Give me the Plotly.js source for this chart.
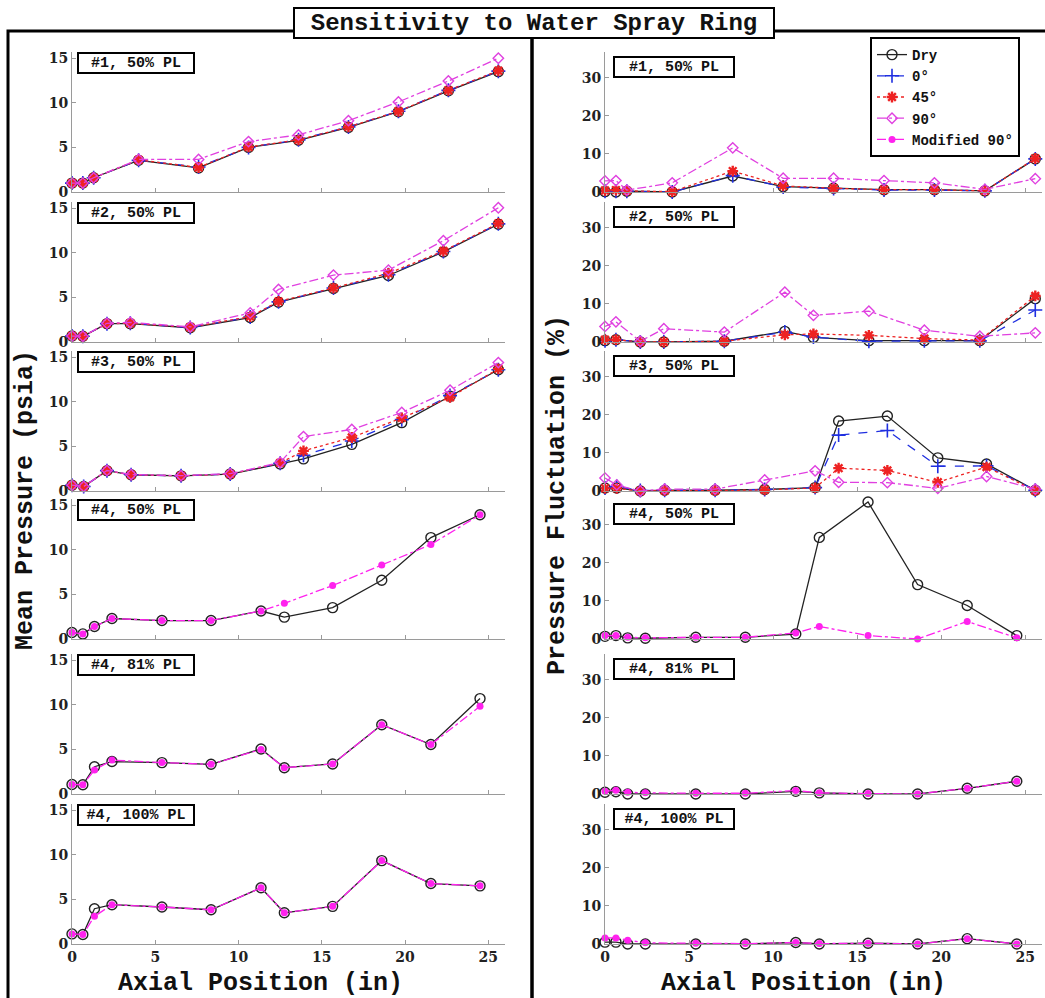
<!DOCTYPE html>
<html>
<head>
<meta charset="utf-8">
<script src="https://cdn.plot.ly/plotly-3.0.1.min.js"></script>
<style>html,body{margin:0;padding:0;background:#fff;}#chart{width:1045px;height:998px;}</style>
</head>
<body>
<div id="chart"></div>
<script>
// ---------- DATA ----------
const seriesNames = ['Dry', '0°', '45°', '90°', 'Modified 90°'];
const caseLabels = ['#1, 50% PL', '#2, 50% PL', '#3, 50% PL', '#4, 50% PL', '#4, 81% PL', '#4, 100% PL'];

// axial positions (in)
const xCase1 = [0, 0.65, 1.3, 4.0, 7.6, 10.6, 13.6, 16.6, 19.6, 22.6, 25.6];
const xCase2 = [0, 0.65, 2.1, 3.5, 7.1, 10.7, 12.4, 15.7, 19.0, 22.3, 25.6];
const xCase3 = [0, 0.7, 2.1, 3.55, 6.55, 9.5, 12.5, 13.9, 16.8, 19.8, 22.7, 25.6];
const xCase4 = [0, 0.65, 1.35, 2.4, 5.4, 8.35, 11.35, 12.75, 15.65, 18.6, 21.55, 24.5];

// Mean pressure (psia)
const mean1Dry = [1.0, 1.0, 1.6, 3.55, 2.7, 5.0, 5.8, 7.25, 9.0, 11.35, 13.5];
const mean1Deg0 = [1.0, 1.0, 1.6, 3.55, 2.8, 5.0, 5.85, 7.3, 9.05, 11.4, 13.55];
const mean1Deg45 = [1.0, 1.0, 1.6, 3.6, 2.75, 5.05, 5.85, 7.3, 9.05, 11.4, 13.6];
const mean1Deg90 = [1.0, 1.0, 1.6, 3.65, 3.65, 5.65, 6.4, 8.0, 10.1, 12.45, 15.0];

const mean2Dry = [0.67, 0.64, 2.06, 2.06, 1.6, 2.74, 4.46, 6.0, 7.46, 10.1, 13.2];
const mean2Deg0 = [0.67, 0.64, 2.06, 2.1, 1.62, 2.8, 4.5, 6.05, 7.55, 10.15, 13.25];
const mean2Deg45 = [0.67, 0.64, 2.06, 2.1, 1.65, 2.85, 4.55, 6.05, 7.7, 10.2, 13.3];
const mean2Deg90 = [0.67, 0.64, 2.1, 2.2, 1.7, 3.26, 5.9, 7.5, 8.06, 11.36, 15.06];

const mean3Dry = [0.65, 0.5, 2.28, 1.82, 1.7, 1.9, 3.04, 3.6, 5.23, 7.67, 10.63, 13.6];
const mean3Deg0 = [0.65, 0.5, 2.28, 1.82, 1.7, 1.9, 3.1, 4.0, 5.6, 8.0, 10.7, 13.6];
const mean3Deg45 = [0.65, 0.5, 2.28, 1.82, 1.7, 1.9, 3.15, 4.5, 6.0, 8.2, 10.5, 13.7];
const mean3Deg90 = [0.65, 0.5, 2.3, 1.85, 1.72, 1.95, 3.2, 6.1, 6.9, 8.8, 11.3, 14.4];

const mean4aDry = [0.73, 0.57, 1.4, 2.3, 2.07, 2.07, 3.14, 2.45, 3.52, 6.58, 11.37, 13.93];
const mean4aMod = [0.73, 0.57, 1.4, 2.3, 2.07, 2.07, 3.14, 4.0, 6.0, 8.3, 10.6, 13.93];
const mean4bDry = [1.07, 1.03, 3.06, 3.64, 3.52, 3.33, 5.05, 2.95, 3.37, 7.77, 5.55, 10.7];
const mean4bMod = [1.07, 1.03, 2.68, 3.8, 3.52, 3.33, 5.0, 2.95, 3.37, 7.77, 5.55, 9.83];
const mean4cDry = [1.13, 1.06, 3.96, 4.41, 4.15, 3.84, 6.3, 3.5, 4.22, 9.35, 6.78, 6.52];
const mean4cMod = [1.13, 1.06, 3.1, 4.41, 4.15, 3.84, 6.3, 3.5, 4.22, 9.35, 6.78, 6.52];

// Pressure fluctuation (%)
const fluct1Dry = [0.1, 0, 0.2, 0, 4.2, 1.4, 1.0, 0.6, 0.6, 0.3, 8.7];
const fluct1Deg0 = [0.2, 0.2, 0.2, 0, 4.3, 1.3, 0.9, 0.5, 0.5, 0.3, 8.7];
const fluct1Deg45 = [0.4, 0.5, 0.3, 0.1, 5.5, 1.6, 1.0, 0.6, 0.6, 0.3, 8.8];
const fluct1Deg90 = [2.9, 3.0, 0.5, 2.4, 11.6, 3.6, 3.6, 3.0, 2.4, 0.7, 3.5];

const fluct2Dry = [0.35, 0.6, 0, 0, 0.2, 2.8, 1.2, 0.35, 0.35, 0.35, 11.4];
const fluct2Deg0 = [0.35, 0.6, 0, 0, 0.2, 2.6, 1.3, 0.2, 0.3, 0.3, 8.4];
const fluct2Deg45 = [0.6, 0.6, 0, 0, 0.2, 1.9, 2.1, 1.75, 0.9, 0.5, 12.1];
const fluct2Deg90 = [4.1, 5.3, 0.2, 3.5, 2.6, 13.1, 7.0, 8.1, 3.1, 1.5, 2.4];

const fluct3Dry = [0.8, 0.8, 0, 0.2, 0.2, 0.4, 0.9, 18.4, 19.7, 8.7, 7.1, 0.2];
const fluct3Deg0 = [0.8, 1.2, 0.1, 0.2, 0.2, 0.4, 0.9, 14.7, 15.9, 6.5, 6.6, 0.2];
const fluct3Deg45 = [0.7, 0.7, 0, 0.1, 0.1, 0.3, 0.8, 6.0, 5.4, 2.3, 6.3, 0.1];
const fluct3Deg90 = [3.4, 1.6, 0, 0.5, 0.5, 2.9, 5.3, 2.3, 2.2, 0.7, 3.8, 0.5];

const fluct4aDry = [0.7, 0.9, 0.3, 0.2, 0.45, 0.45, 1.3, 26.7, 36.0, 14.3, 8.8, 0.9];
const fluct4aMod = [0.9, 0.9, 0.45, 0.3, 0.45, 0.45, 1.6, 3.3, 0.9, 0, 4.6, 0.3];
const fluct4bDry = [0.45, 0.6, 0, 0, 0, 0, 0.7, 0.3, 0, 0, 1.5, 3.35];
const fluct4bMod = [0.7, 1.0, 0.45, 0.3, 0.2, 0.2, 0.9, 0.3, 0.1, 0, 1.5, 3.35];
const fluct4cDry = [0.5, 0.5, 0, 0, 0, 0, 0.4, 0, 0.2, 0, 1.4, 0];
const fluct4cMod = [1.6, 1.6, 1.0, 0.3, 0.2, 0.1, 0.4, 0.1, 0.2, 0, 1.4, 0];

const meanTicks = [0, 5, 10, 15];
const fluctTicks = [0, 10, 20, 30];
const axialTicks = [0, 5, 10, 15, 20, 25];

// ---------- BUILD ----------
const panels = [
  {label: caseLabels[0], x: xCase1, mean: [mean1Dry, mean1Deg0, mean1Deg45, mean1Deg90, null], fluct: [fluct1Dry, fluct1Deg0, fluct1Deg45, fluct1Deg90, null]},
  {label: caseLabels[1], x: xCase2, mean: [mean2Dry, mean2Deg0, mean2Deg45, mean2Deg90, null], fluct: [fluct2Dry, fluct2Deg0, fluct2Deg45, fluct2Deg90, null]},
  {label: caseLabels[2], x: xCase3, mean: [mean3Dry, mean3Deg0, mean3Deg45, mean3Deg90, null], fluct: [fluct3Dry, fluct3Deg0, fluct3Deg45, fluct3Deg90, null]},
  {label: caseLabels[3], x: xCase4, mean: [mean4aDry, null, null, null, mean4aMod], fluct: [fluct4aDry, null, null, null, fluct4aMod]},
  {label: caseLabels[4], x: xCase4, mean: [mean4bDry, null, null, null, mean4bMod], fluct: [fluct4bDry, null, null, null, fluct4bMod]},
  {label: caseLabels[5], x: xCase4, mean: [mean4cDry, null, null, null, mean4cMod], fluct: [fluct4cDry, null, null, null, fluct4cMod]}
];

const styles = [
  {color: '#222222', symbol: 'circle-open', size: 10, mlw: 1.4, dash: 'solid'},
  {color: '#1f2fe0', symbol: 'cross-thin-open', size: 10, mlw: 1.6, dash: 'dash'},
  {color: '#ee2222', symbol: 'asterisk-open', size: 9, mlw: 2.4, dash: 'dot'},
  {color: '#e040e0', symbol: 'diamond-open', size: 8, mlw: 1.4, dash: 'dashdot'},
  {color: '#ff22ee', symbol: 'circle', size: 7, mlw: 0, dash: 'dashdot'}
];

const W = 1045, H = 998;
const px = v => v / W;
const py = v => 1 - v / H;
const rowZero = [192, 342, 491, 639, 794, 944];
const plotH = 140;
const colX = [[72, 505], [605, 1042]];

const MONO = '"Courier New", "Liberation Mono", monospace';
const SERIF = '"DejaVu Serif", serif';

const traces = [];
const layout = {
  width: W, height: H,
  margin: {l: 0, r: 0, t: 0, b: 0},
  paper_bgcolor: '#ffffff', plot_bgcolor: '#ffffff',
  showlegend: true,
  legend: {
    x: px(870), y: py(37), xanchor: 'left', yanchor: 'top',
    bgcolor: '#ffffff', bordercolor: '#000000', borderwidth: 2,
    font: {family: MONO, size: 14, color: '#111', weight: 'bold'},
    itemwidth: 30, tracegroupgap: 0, traceorder: 'normal'
  },
  annotations: [], shapes: []
};
const shown = {};

panels.forEach((p, r) => {
  [0, 1].forEach(c => {
    const k = r * 2 + c + 1;
    const xn = k === 1 ? 'xaxis' : 'xaxis' + k;
    const yn = k === 1 ? 'yaxis' : 'yaxis' + k;
    const xid = k === 1 ? 'x' : 'x' + k;
    const yid = k === 1 ? 'y' : 'y' + k;
    const zero = rowZero[r];
    layout[xn] = {
      domain: [px(colX[c][0]), px(colX[c][1])], range: [0, 26], anchor: yid,
      showgrid: false, zeroline: false, showline: true, linecolor: '#9a9a9a', linewidth: 1,
      ticks: 'inside', ticklen: 4, tickcolor: '#9a9a9a', tickvals: axialTicks,
      showticklabels: r === 5, tickfont: {family: SERIF, size: 14, color: '#222', weight: 'bold'},
      fixedrange: true
    };
    layout[yn] = {
      domain: [py(zero), py(zero - plotH)], range: c === 0 ? [0, 15.7] : [0, 36.8], anchor: xid,
      showgrid: false, zeroline: false, showline: true, linecolor: '#9a9a9a', linewidth: 1,
      ticks: 'inside', ticklen: 4, tickcolor: '#9a9a9a', tickvals: c === 0 ? meanTicks : fluctTicks,
      tickfont: {family: SERIF, size: 14, color: '#222', weight: 'bold'},
      fixedrange: true
    };
    const ys = c === 0 ? p.mean : p.fluct;
    ys.forEach((yv, s) => {
      if (!yv) return;
      const st = styles[s];
      const first = !shown[s];
      shown[s] = true;
      traces.push({
        type: 'scatter', mode: 'lines+markers', x: p.x, y: yv, xaxis: xid, yaxis: yid,
        name: seriesNames[s], legendgroup: seriesNames[s], showlegend: first, legendrank: s + 1,
        cliponaxis: false,
        line: {color: st.color, width: 1.3, dash: st.dash},
        marker: {symbol: st.symbol, size: st.size, color: st.color, line: {color: st.color, width: st.mlw}}
      });
    });
    // panel label box
    layout.annotations.push({
      xref: 'paper', yref: 'paper', xanchor: 'left', yanchor: 'top',
      x: px(c === 0 ? 77 : 613), y: py(zero - plotH + (c === 0 ? 0 : 4)),
      text: p.label, showarrow: false,
      font: {family: MONO, size: 15, color: '#111', weight: 'bold'},
      bgcolor: '#ffffff', bordercolor: '#000000', borderwidth: 2, borderpad: 1,
      width: c === 0 ? 112 : 116, height: 16, align: 'center'
    });
  });
});

// frames
layout.shapes.push({type: 'rect', xref: 'paper', yref: 'paper', x0: px(8), x1: px(532), y0: py(31), y1: -0.02,
  line: {color: '#000', width: 3}, fillcolor: 'rgba(0,0,0,0)', layer: 'above'});
layout.shapes.push({type: 'rect', xref: 'paper', yref: 'paper', x0: px(532), x1: 1.02, y0: py(31), y1: -0.02,
  line: {color: '#000', width: 3}, fillcolor: 'rgba(0,0,0,0)', layer: 'above'});

// title and axis titles
const titleFont = {family: MONO, size: 25, color: '#111', weight: 'bold'};
layout.annotations.push({
  xref: 'paper', yref: 'paper', x: px(534), y: py(23), xanchor: 'center', yanchor: 'middle',
  text: 'Sensitivity to Water Spray Ring', showarrow: false,
  font: {family: MONO, size: 24, color: '#111', weight: 'bold'},
  bgcolor: '#ffffff', bordercolor: '#000000', borderwidth: 2, borderpad: 1, width: 476, height: 26
});
layout.annotations.push({xref: 'paper', yref: 'paper', x: px(26), y: py(500), xanchor: 'center', yanchor: 'middle',
  textangle: -90, showarrow: false, text: 'Mean Pressure (psia)', font: titleFont});
layout.annotations.push({xref: 'paper', yref: 'paper', x: px(557), y: py(495), xanchor: 'center', yanchor: 'middle',
  textangle: -90, showarrow: false, text: 'Pressure Fluctuation (%)', font: titleFont});
layout.annotations.push({xref: 'paper', yref: 'paper', x: px(260), y: py(983), xanchor: 'center', yanchor: 'middle',
  showarrow: false, text: 'Axial Position (in)', font: titleFont});
layout.annotations.push({xref: 'paper', yref: 'paper', x: px(803), y: py(983), xanchor: 'center', yanchor: 'middle',
  showarrow: false, text: 'Axial Position (in)', font: titleFont});

Plotly.newPlot('chart', traces, layout, {staticPlot: true, displayModeBar: false});
</script>
</body>
</html>
